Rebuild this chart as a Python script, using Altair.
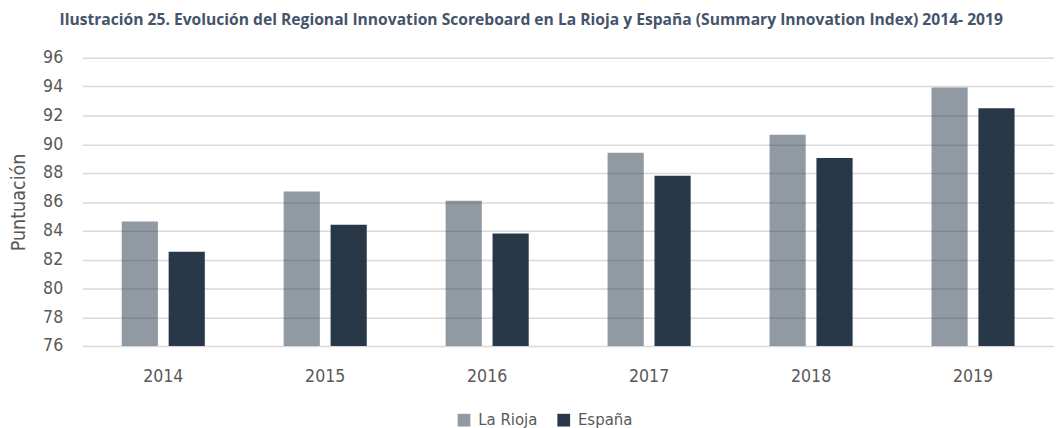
import altair as alt
import pandas as pd

years = ["2014", "2015", "2016", "2017", "2018", "2019"]
la_rioja = [84.65, 86.73, 86.09, 89.41, 90.66, 93.94]
espana = [82.54, 84.42, 83.81, 87.81, 89.05, 92.50]
series = ["La Rioja", "España"]
y_ticks = [76, 78, 80, 82, 84, 86, 88, 90, 92, 94, 96]

rows = []
for i, yr in enumerate(years):
    rows.append({"year": yr, "serie": series[0], "value": la_rioja[i]})
    rows.append({"year": yr, "serie": series[1], "value": espana[i]})
df = pd.DataFrame(rows)

FONT = "DejaVu Sans Condensed"
TXT = "#595959"

leg = dict(title=None, orient="none", direction="horizontal",
           legendX=382, legendY=362, symbolType="square",
           symbolSize=169, symbolStrokeWidth=0,
           labelFont=FONT, labelFontSize=17, labelColor=TXT,
           columnPadding=18, labelOffset=6)

chart = alt.Chart(df).mark_bar().encode(
    x=alt.X("year:N", sort=years, title=None,
            scale=alt.Scale(range=[0, 994], paddingInner=0.487, paddingOuter=0.2435),
            axis=alt.Axis(labelAngle=0, domain=False, ticks=False, tickSize=0,
                          labelPadding=22, labelFont=FONT, labelFontSize=18,
                          labelColor=TXT, grid=False)),
    xOffset=alt.XOffset("serie:N", sort=series,
                        scale=alt.Scale(paddingInner=0.229, paddingOuter=0)),
    y=alt.Y("value:Q", title="Puntuación",
            scale=alt.Scale(domain=[76, 96], zero=False, nice=False),
            axis=alt.Axis(values=y_ticks, domain=False, ticks=False, tickSize=0,
                          labelPadding=20, labelFont=FONT, labelFontSize=18,
                          labelColor=TXT, gridColor="#d9d9d9", gridWidth=1.5,
                          titleFont=FONT, titleFontSize=20, titleFontWeight="normal",
                          titleColor=TXT, titlePadding=15)),
    y2=alt.datum(76),
    color=alt.Color("serie:N", sort=series,
                    scale=alt.Scale(domain=series, range=["#243546", "#1b2c3e"]),
                    legend=alt.Legend(**leg)),
    opacity=alt.Opacity("serie:N", sort=series,
                        scale=alt.Scale(domain=series, range=[0.5, 0.94]),
                        legend=alt.Legend(**leg)),
).properties(
    width=980,
    height=295,
    title=alt.Title(
        "Ilustración 25. Evolución del Regional Innovation Scoreboard en La Rioja y España (Summary Innovation Index) 2014- 2019",
        font="Open Sans", fontSize=16, fontWeight="bold", color="#44546A",
        anchor="middle", offset=21, frame="bounds"),
    padding={"left": 0, "top": 0, "right": 0, "bottom": 0},
).configure_view(stroke=None)

chart.save("out.html", embed_options={"renderer": "svg", "actions": False})
